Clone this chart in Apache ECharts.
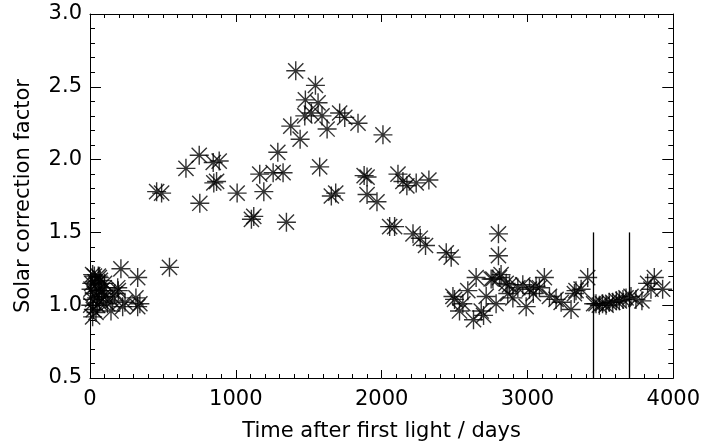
<!DOCTYPE html>
<html>
<head>
<meta charset="utf-8">
<script src="https://cdn.jsdelivr.net/npm/echarts@6/dist/echarts.min.js"></script>
<style>
html,body{margin:0;padding:0;background:#fff;}
#chart{width:703px;height:447px;}
</style>
</head>
<body>
<div id="chart"></div>
<script>
// Days after first light
const days = [
  7, 18, 18, 18, 23, 29, 35, 41, 41, 50, 57, 64, 64, 71, 80, 90, 98, 110, 120, 144,
  155, 170, 190, 194, 212, 224, 240, 315, 327, 327, 342, 5, 12, 30, 45, 60, 100,
  457, 491, 545, 658, 749, 753, 845, 849, 868, 886, 1009, 1107, 1123, 1164, 1192,
  1256, 1288, 1324, 1347, 1377, 1411, 1441, 1473, 1477, 1518, 1546, 1564, 1575,
  1591, 1626, 1655, 1685, 1712, 1747, 1838, 1880, 1900, 1900, 1968, 2009, 2055,
  2089, 2112, 2146, 2173, 2215, 2237, 2265, 2301, 2324,
  2443, 2477, 2489, 2500, 2534, 2557, 2591, 2630, 2648, 2683, 2699, 2717, 2751,
  2763, 2785, 2801, 2801, 2808, 2819, 2854, 2865, 2877, 2900, 2934, 2968, 2991,
  3014, 3040, 3059, 3082, 3116, 3151, 3196, 3231, 3299, 3322, 3333, 3368, 3413,
  3454, 3470, 3493, 3515, 3539, 3560, 3585, 3610, 3630, 3655, 3676, 3710, 3744,
  3785, 3824, 3847, 3870, 3927
];
// Solar correction factor
const factor = [
  1.11, 1.21, 1.04, 0.92, 0.97, 1.08, 1.16, 1.14, 0.95, 1.00, 1.20, 1.19, 1.02, 1.17, 1.10, 1.06, 1.12, 1.06, 1.01, 0.96,
  1.03, 1.08, 1.12, 1.10, 1.25, 0.99, 1.02, 1.05, 1.19, 0.99, 1.01, 1.00, 1.15, 1.20, 1.05, 1.10, 1.15,
  1.78, 1.77, 1.26, 1.94, 2.03, 1.70, 1.98, 1.84, 1.85, 1.99, 1.77, 1.59, 1.61, 1.90, 1.78,
  1.91, 2.05, 1.91, 1.57, 2.23, 2.61, 2.14, 2.30, 2.41, 2.32, 2.51, 2.39, 1.95,
  2.30, 2.21, 1.75, 1.77, 2.32, 2.29, 2.25, 1.89, 1.88, 1.76, 1.71, 2.17, 1.54,
  1.54, 1.90, 1.85, 1.82, 1.49, 1.84, 1.46, 1.41, 1.86,
  1.36, 1.33, 1.06, 1.04, 0.96, 1.01, 1.10, 0.90, 1.19, 0.96, 0.93, 1.06, 1.18,
  1.18, 1.01, 1.49, 1.34, 1.19, 1.21, 1.15, 1.08, 1.14, 1.05, 1.12, 1.14, 0.99,
  1.11, 1.08, 1.13, 1.12, 1.19, 1.06, 1.04, 1.02, 0.97, 1.08, 1.10, 1.11, 1.19,
  1.01, 1.01, 1.00, 1.01, 1.00, 1.02, 1.02, 1.03, 1.03, 1.04, 1.05, 1.06, 1.04,
  1.03, 1.15, 1.11, 1.19, 1.11
];
// Vertical reference lines
const refLineDays = [3450, 3700];
const refLineRange = [0.5, 1.5];
// Axes
const xMin = 0, xMax = 4000, xStep = 1000;
const yMin = 0.5, yMax = 3.0, yStep = 0.5;
const xTitle = 'Time after first light / days';
const yTitle = 'Solar correction factor';

const points = days.map((d, i) => [d, factor[i]]);
const refLines = refLineDays.map(d => [{coord: [d, refLineRange[0]]}, {coord: [d, refLineRange[1]]}]);

const FONT = '"DejaVu Sans ExtraLight", "DejaVu Sans"';
const asterisk = 'path://M10,0L10,20M0,10L20,10M2,2L18,18M2,18L18,2';

const chart = echarts.init(document.getElementById('chart'), null, {renderer: 'canvas'});
const axisLine = {show: true, onZero: false, lineStyle: {color: '#000', width: 1}};
chart.setOption({
  animation: false,
  backgroundColor: '#fff',
  grid: {left: 90, top: 14, right: 29, bottom: 68},
  xAxis: [{
    type: 'value', min: xMin, max: xMax, interval: xStep,
    name: xTitle, nameLocation: 'middle', nameGap: 43,
    nameTextStyle: {fontFamily: FONT, fontSize: 21, color: '#000'},
    axisLine: axisLine,
    axisTick: {show: true, inside: true, length: 8, lineStyle: {color: '#000'}},
    minorTick: {show: true, splitNumber: 10, length: 4, lineStyle: {color: '#000'}},
    axisLabel: {fontFamily: FONT, fontSize: 21, color: '#000', margin: 11,
      formatter: v => String(v)},
    splitLine: {show: false}
  }, {
    type: 'value', position: 'top', min: xMin, max: xMax, interval: xStep,
    axisLine: axisLine,
    axisTick: {show: true, inside: true, length: 8, lineStyle: {color: '#000'}},
    minorTick: {show: true, splitNumber: 10, length: 4, lineStyle: {color: '#000'}},
    axisLabel: {show: false},
    splitLine: {show: false}
  }],
  yAxis: [{
    type: 'value', min: yMin, max: yMax, interval: yStep,
    name: yTitle, nameLocation: 'middle', nameGap: 56, nameRotate: 90,
    nameTextStyle: {fontFamily: FONT, fontSize: 21, color: '#000'},
    axisLine: axisLine,
    axisTick: {show: true, inside: true, length: 11, lineStyle: {color: '#000'}},
    minorTick: {show: true, splitNumber: 5, length: 5, lineStyle: {color: '#000'}},
    axisLabel: {fontFamily: FONT, fontSize: 21, color: '#000', margin: 8,
      formatter: v => v.toFixed(1)},
    splitLine: {show: false}
  }, {
    type: 'value', position: 'right', min: yMin, max: yMax, interval: yStep,
    axisLine: axisLine,
    axisTick: {show: true, inside: true, length: 11, lineStyle: {color: '#000'}},
    minorTick: {show: true, splitNumber: 5, length: 5, lineStyle: {color: '#000'}},
    axisLabel: {show: false},
    splitLine: {show: false}
  }],
  series: [{
    type: 'scatter',
    xAxisIndex: 0, yAxisIndex: 0,
    data: points,
    symbol: asterisk,
    symbolSize: 19,
    itemStyle: {color: 'rgba(0,0,0,0)', borderColor: '#000', borderWidth: 1.4},
    emphasis: {disabled: true},
    markLine: {
      silent: true, symbol: ['none', 'none'],
      label: {show: false},
      lineStyle: {color: '#000', width: 1.3, type: 'solid'},
      data: refLines
    }
  }]
});
</script>
</body>
</html>
